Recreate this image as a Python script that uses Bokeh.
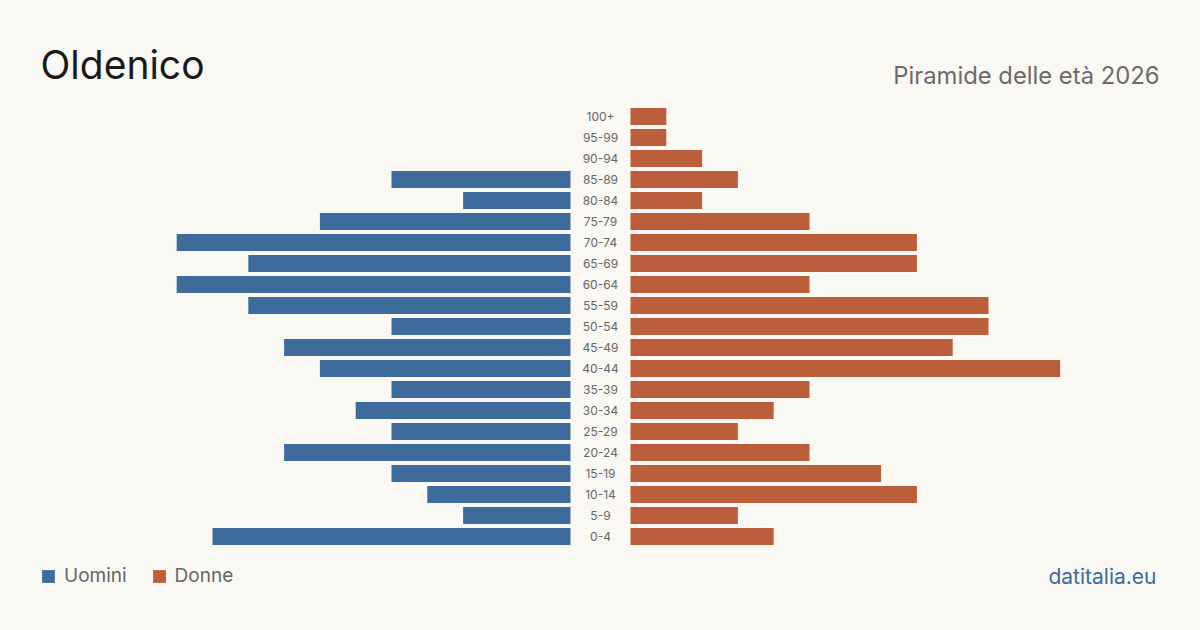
from bokeh.plotting import figure
from bokeh.models import Range1d, Label, Legend, LegendItem, ColumnDataSource
from bokeh.core.properties import value
from bokeh.embed import file_html
from bokeh.resources import INLINE

ages = ["0-4", "5-9", "10-14", "15-19", "20-24", "25-29", "30-34", "35-39", "40-44", "45-49",
        "50-54", "55-59", "60-64", "65-69", "70-74", "75-79", "80-84", "85-89", "90-94", "95-99", "100+"]
men = [10, 3, 4, 5, 8, 5, 6, 5, 7, 8, 5, 9, 11, 9, 11, 7, 3, 5, 0, 0, 0]
women = [4, 3, 8, 7, 5, 3, 4, 5, 12, 9, 10, 10, 5, 8, 8, 5, 2, 3, 2, 1, 1]

title = "Oldenico"
subtitle = "Piramide delle età 2026"
source_label = "datitalia.eu"

BG = "#faf8f3"
BLUE = "#3d6b9c"
ORANGE = "#bb5e3b"
FONT = "Inter"

W, H = 1200, 630
unit = 35.8
half_gap = 30 / unit
row = 21.0
y0px = 536.0

p = figure(width=W, height=H, output_backend="svg", toolbar_location=None,
           min_border=0, outline_line_color=None,
           x_range=Range1d(-600 / unit, 600 / unit),
           y_range=Range1d((y0px - H) / row, y0px / row))
p.axis.visible = False
p.grid.visible = False
p.background_fill_color = BG
p.border_fill_color = BG

idx = list(range(len(ages)))
src = ColumnDataSource(dict(
    y=idx, age=ages,
    ml=[-half_gap - v for v in men], mr=[-half_gap] * len(men),
    wl=[half_gap] * len(women), wr=[half_gap + v for v in women],
))

rm = p.hbar(y="y", left="ml", right="mr", height=0.81, source=src,
            fill_color=BLUE, line_color=None)
rw = p.hbar(y="y", left="wl", right="wr", height=0.81, source=src,
            fill_color=ORANGE, line_color=None)

p.text(x=0, y="y", text="age", source=src, text_align="center", text_baseline="middle",
       text_font=value(FONT), text_font_size="12px", text_color="#666666")

p.add_layout(Label(x=40, y=H - 87, x_units="screen", y_units="screen", text=title,
                   text_font=FONT, text_font_size="39px", text_color="#1a1a1a"))
p.add_layout(Label(x=1159, y=H - 89, x_units="screen", y_units="screen", text=subtitle,
                   text_align="right", text_font=FONT, text_font_size="23.8px",
                   text_color="#6b6b6b"))
p.add_layout(Label(x=1156, y=H - 588, x_units="screen", y_units="screen", text=source_label,
                   text_align="right", text_font=FONT, text_font_size="21px",
                   text_color=BLUE))

legend = Legend(items=[LegendItem(label="Uomini", renderers=[rm]),
                       LegendItem(label="Donne", renderers=[rw])],
                location=(40, H - 587), orientation="horizontal",
                glyph_width=16, glyph_height=16, label_height=16,
                label_standoff=8, spacing=24, padding=0, margin=0,
                border_line_color=None, background_fill_alpha=0,
                label_text_font=FONT, label_text_font_size="19px",
                label_text_color="#666666")
p.add_layout(legend)

open("out.html", "w").write(file_html(p, INLINE))
